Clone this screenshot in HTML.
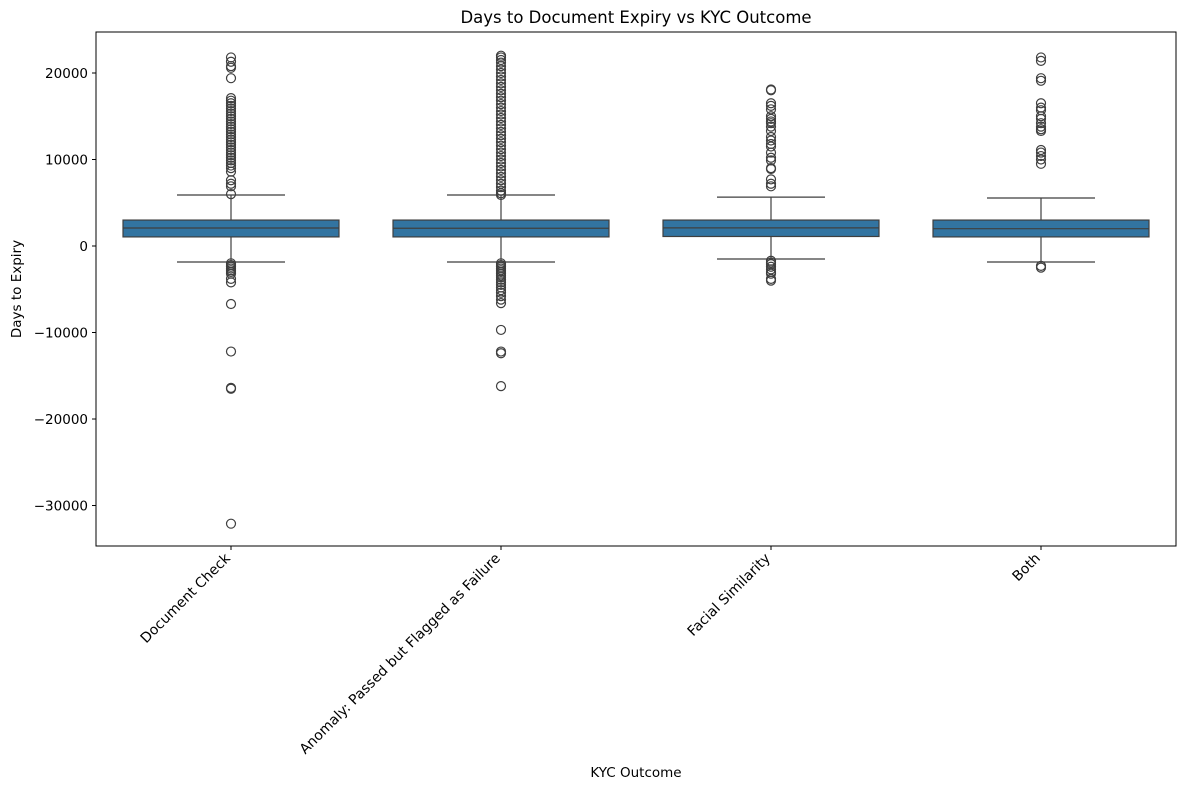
<!DOCTYPE html>
<html><head><meta charset="utf-8"><style>
body{margin:0;background:#fff;font-family:"Liberation Sans","DejaVu Sans",sans-serif}
</style></head><body>
<svg id="chart" width="1189" height="790" xmlns="http://www.w3.org/2000/svg" font-family="DejaVu Sans, Liberation Sans, sans-serif">
<rect width="1189" height="790" fill="#fff"/>
<text x="636" y="23" text-anchor="middle" font-size="16.5">Days to Document Expiry vs KYC Outcome</text>
<text transform="translate(21,289) rotate(-90)" text-anchor="middle" font-size="13.5">Days to Expiry</text>
<text x="636" y="777" text-anchor="middle" font-size="13.5">KYC Outcome</text>
<g id="plot"></g>
<rect x="96" y="32" width="1080" height="514" fill="none" stroke="#000" stroke-width="1"/>
</svg>
<script>
const categories=["Document Check","Anomaly: Passed but Flagged as Failure","Facial Similarity","Both"];
const q1=[1050,1050,1100,1050];
const median=[2080,2050,2100,2000];
const q3=[3000,3000,3000,3000];
const whiskLo=[-1850,-1850,-1500,-1850];
const whiskHi=[5900,5900,5650,5550];
const outHi=[
[21800,21300,20800,20600,19400,17100,16800,16500,16200,15900,15600,15300,15000,14700,14400,14100,13800,13500,13200,12900,12600,12300,12000,11700,11400,11100,10800,10500,10200,9900,9600,9300,9000,8600,7600,7200,6900,6000],
[22000,21800,21500,21200,20800,20400,20000,19600,19200,18800,18400,18000,17600,17200,16800,16400,16000,15600,15200,14800,14400,14000,13600,13200,12800,12400,12000,11600,11200,10800,10400,10000,9600,9200,8800,8400,8000,7600,7200,6800,6400,6100,5900],
[18100,18000,16500,16200,15800,15000,14700,14400,14200,13800,13300,12600,12200,11800,11500,10800,10200,9900,9000,8900,7700,7200,6900],
[21800,21400,19400,19100,16500,16000,15700,15000,14700,14200,13800,13500,13300,11100,10800,10400,10000,9500]];
const outLo=[
[-2000,-2200,-2400,-2600,-2800,-3000,-3200,-3800,-4200,-6700,-12200,-16400,-16500,-32100],
[-2000,-2200,-2400,-2600,-2800,-3000,-3200,-3400,-3600,-3900,-4200,-4500,-4800,-5100,-5400,-5800,-6200,-6600,-9700,-12200,-12400,-16200],
[-1700,-1900,-2100,-2400,-2700,-3000,-3200,-3800,-4000],
[-2300,-2500]];
const yTicks=[20000,10000,0,-10000,-20000,-30000];
const NS="http://www.w3.org/2000/svg";
const L=96,R=1176,T=32,B=546,yMin=-34680,yMax=24740;
const y=v=>B-(v-yMin)/(yMax-yMin)*(B-T);
const step=(R-L)/categories.length;
const x=i=>L+step*(i+0.5);
const g=document.getElementById('plot');
function mk(tag,a,p){const e=document.createElementNS(NS,tag);for(const k in a)e.setAttribute(k,a[k]);(p||g).appendChild(e);return e;}
yTicks.forEach(t=>{
 const tk=mk('line',{x1:L-4,x2:L,y1:y(t),y2:y(t),stroke:'#000'});
 
 
 const tx=mk('text',{x:L-8,y:y(t)+5,'text-anchor':'end','font-size':'13.5'});
 tx.textContent=String(t).replace('-','\u2212');
 
 
});
const bw=step*0.8,col='#3f3f3f';
categories.forEach((c,i)=>{
 const cx=x(i);
 const grp=mk('g',{});
 
 
 mk('line',{x1:cx,x2:cx,y1:y(q3[i]),y2:y(whiskHi[i]),stroke:col,'stroke-width':1.2},grp);
 mk('line',{x1:cx,x2:cx,y1:y(q1[i]),y2:y(whiskLo[i]),stroke:col,'stroke-width':1.2},grp);
 mk('line',{x1:cx-bw/4,x2:cx+bw/4,y1:y(whiskHi[i]),y2:y(whiskHi[i]),stroke:col,'stroke-width':1.2},grp);
 mk('line',{x1:cx-bw/4,x2:cx+bw/4,y1:y(whiskLo[i]),y2:y(whiskLo[i]),stroke:col,'stroke-width':1.2},grp);
 mk('rect',{x:cx-bw/2,y:y(q3[i]),width:bw,height:y(q1[i])-y(q3[i]),fill:'#3274a1',stroke:col,'stroke-width':1.2},grp);
 mk('line',{x1:cx-bw/2,x2:cx+bw/2,y1:y(median[i]),y2:y(median[i]),stroke:col,'stroke-width':1.2},grp);
 outHi[i].concat(outLo[i]).forEach(v=>{
  const o=mk('circle',{cx:cx,cy:y(v),r:4.5,fill:'none',stroke:col,'stroke-width':1.2},grp);
  
  
 });
 const tk=mk('line',{x1:cx,x2:cx,y1:B,y2:B+4,stroke:'#000'});
 
 
 const tx=mk('text',{transform:`translate(${cx},${B+13}) rotate(-45)`,'text-anchor':'end','font-size':'14'});
 tx.textContent=c;
 
 
});
</script>
</body></html>
